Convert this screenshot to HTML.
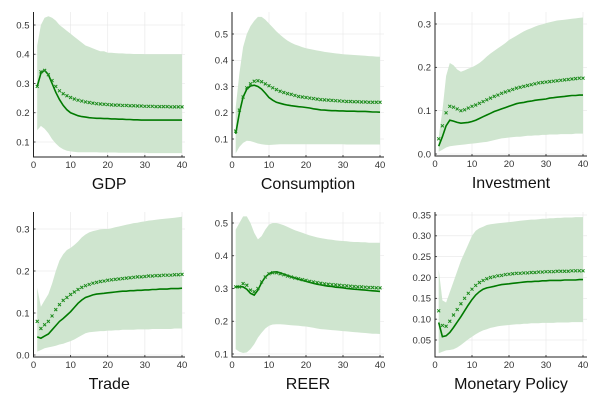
<!DOCTYPE html>
<html><head><meta charset="utf-8"><style>
html,body{margin:0;padding:0;background:#fff}
svg{display:block;font-family:"Liberation Sans","DejaVu Sans",sans-serif}
</style></head><body>
<svg id="chart" width="600" height="400" viewBox="0 0 600 400"></svg>
<script>
const titles=["GDP","Consumption","Investment","Trade","REER","Monetary Policy"];
const xTicks=[0,10,20,30,40];
const yTicksGDP=["0.1","0.2","0.3","0.4","0.5"];
const yTicksCons=["0.1","0.2","0.3","0.4","0.5"];
const yTicksInv=["0.0","0.1","0.2","0.3"];
const yTicksTrade=["0.0","0.1","0.2","0.3"];
const yTicksReer=["0.1","0.2","0.3","0.4","0.5"];
const yTicksMon=["0.05","0.10","0.15","0.20","0.25","0.30","0.35"];

const gdpMean=[0.29,0.34,0.345,0.33,0.31,0.29,0.275,0.265,0.258,0.252,0.247,0.243,0.24,0.237,0.235,0.233,0.231,0.23,0.229,0.228,0.227,0.226,0.226,0.225,0.225,0.224,0.224,0.223,0.223,0.222,0.222,0.222,0.221,0.221,0.221,0.221,0.22,0.22,0.22,0.22];
const gdpMedian=[0.29,0.335,0.345,0.33,0.30,0.27,0.245,0.225,0.21,0.2,0.195,0.19,0.187,0.185,0.183,0.182,0.181,0.181,0.18,0.18,0.179,0.179,0.178,0.178,0.177,0.177,0.176,0.176,0.175,0.175,0.175,0.175,0.175,0.175,0.175,0.175,0.175,0.175,0.175,0.175];
const gdpUpper=[0.43,0.5,0.525,0.53,0.525,0.515,0.5,0.49,0.48,0.47,0.46,0.45,0.44,0.43,0.425,0.42,0.415,0.41,0.41,0.405,0.405,0.404,0.403,0.403,0.402,0.402,0.401,0.401,0.401,0.4,0.4,0.4,0.4,0.4,0.4,0.4,0.4,0.4,0.4,0.4];
const gdpLower=[0.14,0.155,0.145,0.13,0.11,0.095,0.083,0.075,0.07,0.068,0.066,0.065,0.065,0.065,0.065,0.065,0.065,0.064,0.064,0.064,0.064,0.064,0.063,0.063,0.063,0.063,0.063,0.063,0.063,0.063,0.062,0.062,0.062,0.062,0.062,0.062,0.062,0.062,0.062,0.062];

const consMean=[0.13,0.21,0.26,0.295,0.31,0.32,0.322,0.318,0.31,0.303,0.295,0.288,0.282,0.277,0.273,0.27,0.266,0.262,0.26,0.258,0.256,0.254,0.252,0.25,0.249,0.248,0.247,0.246,0.245,0.244,0.243,0.243,0.242,0.242,0.241,0.241,0.24,0.24,0.24,0.24];
const consMedian=[0.12,0.2,0.26,0.29,0.302,0.305,0.3,0.29,0.275,0.258,0.248,0.24,0.236,0.232,0.229,0.227,0.225,0.223,0.222,0.22,0.218,0.215,0.213,0.211,0.21,0.209,0.208,0.208,0.207,0.207,0.206,0.206,0.206,0.205,0.205,0.205,0.204,0.203,0.203,0.202];
const consUpper=[0.22,0.35,0.45,0.5,0.53,0.55,0.565,0.565,0.555,0.54,0.525,0.51,0.497,0.485,0.475,0.467,0.46,0.455,0.45,0.446,0.443,0.44,0.437,0.435,0.432,0.43,0.428,0.426,0.425,0.423,0.422,0.421,0.42,0.419,0.418,0.417,0.416,0.415,0.414,0.413];
const consLower=[0.045,0.07,0.085,0.093,0.092,0.088,0.083,0.08,0.078,0.077,0.078,0.079,0.08,0.08,0.08,0.08,0.08,0.08,0.08,0.08,0.08,0.08,0.08,0.08,0.08,0.08,0.08,0.08,0.08,0.08,0.079,0.079,0.079,0.079,0.079,0.079,0.079,0.079,0.079,0.079];

const invMean=[0.035,0.065,0.095,0.11,0.108,0.104,0.1,0.102,0.106,0.11,0.113,0.117,0.121,0.125,0.129,0.133,0.136,0.14,0.143,0.146,0.149,0.152,0.154,0.156,0.158,0.16,0.162,0.164,0.165,0.166,0.167,0.168,0.169,0.17,0.171,0.172,0.173,0.174,0.175,0.175];
const invMedian=[0.018,0.04,0.065,0.078,0.076,0.073,0.071,0.072,0.073,0.075,0.078,0.082,0.086,0.09,0.094,0.098,0.101,0.104,0.107,0.11,0.113,0.116,0.118,0.119,0.121,0.122,0.124,0.125,0.126,0.127,0.129,0.13,0.131,0.132,0.133,0.134,0.135,0.135,0.136,0.136];
const invUpper=[0.04,0.1,0.18,0.21,0.205,0.195,0.19,0.193,0.197,0.2,0.205,0.21,0.217,0.225,0.232,0.238,0.244,0.25,0.256,0.263,0.268,0.273,0.278,0.283,0.287,0.29,0.294,0.297,0.299,0.302,0.304,0.306,0.308,0.309,0.31,0.311,0.312,0.313,0.314,0.315];
const invLower=[0.005,0.01,0.015,0.018,0.019,0.02,0.021,0.022,0.023,0.024,0.025,0.026,0.027,0.028,0.03,0.032,0.034,0.036,0.037,0.038,0.039,0.04,0.04,0.041,0.042,0.042,0.043,0.043,0.044,0.044,0.045,0.045,0.045,0.046,0.046,0.046,0.046,0.047,0.047,0.047];

const tradeMean=[0.08,0.063,0.072,0.08,0.093,0.108,0.12,0.13,0.137,0.144,0.15,0.156,0.161,0.165,0.168,0.171,0.173,0.175,0.176,0.178,0.179,0.18,0.181,0.182,0.183,0.184,0.185,0.186,0.186,0.187,0.188,0.188,0.189,0.189,0.19,0.19,0.19,0.191,0.191,0.192];
const tradeMedian=[0.043,0.04,0.045,0.05,0.06,0.07,0.08,0.087,0.095,0.103,0.113,0.123,0.131,0.137,0.14,0.143,0.145,0.146,0.147,0.148,0.149,0.15,0.151,0.152,0.152,0.153,0.153,0.154,0.154,0.155,0.155,0.156,0.156,0.157,0.157,0.157,0.158,0.158,0.158,0.159];
const tradeUpper=[0.16,0.115,0.13,0.145,0.17,0.2,0.225,0.24,0.25,0.255,0.262,0.27,0.28,0.287,0.292,0.295,0.297,0.299,0.3,0.3,0.302,0.304,0.306,0.308,0.31,0.312,0.314,0.315,0.317,0.318,0.32,0.321,0.322,0.323,0.324,0.325,0.326,0.327,0.328,0.329];
const tradeLower=[0.008,0.012,0.016,0.018,0.02,0.022,0.025,0.027,0.03,0.033,0.037,0.042,0.047,0.052,0.054,0.055,0.056,0.057,0.057,0.058,0.058,0.059,0.059,0.06,0.06,0.06,0.06,0.061,0.061,0.061,0.061,0.062,0.062,0.062,0.062,0.062,0.062,0.063,0.063,0.063];

const reerMean=[0.305,0.305,0.315,0.31,0.295,0.29,0.3,0.32,0.335,0.345,0.348,0.348,0.345,0.342,0.338,0.335,0.332,0.33,0.327,0.325,0.322,0.32,0.318,0.316,0.314,0.313,0.312,0.311,0.31,0.309,0.308,0.307,0.306,0.305,0.305,0.304,0.303,0.303,0.302,0.302];
const reerMedian=[0.305,0.306,0.305,0.298,0.285,0.28,0.295,0.318,0.335,0.345,0.35,0.351,0.348,0.344,0.34,0.336,0.332,0.328,0.325,0.322,0.319,0.316,0.313,0.311,0.309,0.307,0.306,0.304,0.303,0.302,0.3,0.299,0.298,0.297,0.296,0.295,0.294,0.293,0.292,0.291];
const reerUpper=[0.48,0.5,0.52,0.52,0.5,0.47,0.45,0.46,0.48,0.495,0.5,0.5,0.497,0.493,0.488,0.483,0.478,0.474,0.47,0.466,0.462,0.459,0.456,0.454,0.452,0.45,0.449,0.447,0.446,0.445,0.444,0.443,0.442,0.442,0.441,0.441,0.44,0.44,0.44,0.44];
const reerLower=[0.115,0.107,0.103,0.105,0.115,0.13,0.15,0.165,0.178,0.186,0.19,0.191,0.191,0.19,0.189,0.188,0.187,0.186,0.185,0.184,0.182,0.18,0.178,0.176,0.175,0.174,0.173,0.172,0.171,0.17,0.169,0.168,0.167,0.166,0.165,0.164,0.163,0.162,0.162,0.161];

const monMean=[0.12,0.085,0.083,0.095,0.11,0.123,0.137,0.15,0.162,0.172,0.181,0.188,0.193,0.197,0.2,0.202,0.204,0.205,0.207,0.208,0.209,0.21,0.21,0.211,0.211,0.212,0.212,0.213,0.213,0.214,0.214,0.214,0.215,0.215,0.215,0.215,0.216,0.216,0.216,0.216];
const monMedian=[0.092,0.058,0.06,0.068,0.08,0.093,0.106,0.12,0.134,0.147,0.158,0.166,0.172,0.175,0.177,0.179,0.181,0.183,0.184,0.185,0.186,0.187,0.188,0.189,0.19,0.19,0.191,0.191,0.192,0.192,0.193,0.193,0.193,0.193,0.194,0.194,0.194,0.194,0.195,0.195];
const monUpper=[0.22,0.145,0.14,0.165,0.19,0.215,0.24,0.26,0.28,0.3,0.312,0.318,0.322,0.326,0.328,0.329,0.33,0.331,0.332,0.333,0.334,0.335,0.336,0.337,0.338,0.339,0.339,0.34,0.341,0.341,0.342,0.342,0.343,0.343,0.344,0.344,0.344,0.345,0.345,0.345];
const monLower=[0.018,0.022,0.025,0.026,0.028,0.032,0.038,0.045,0.052,0.058,0.064,0.069,0.073,0.076,0.079,0.081,0.083,0.084,0.085,0.086,0.087,0.088,0.088,0.089,0.089,0.09,0.09,0.09,0.091,0.091,0.091,0.091,0.092,0.092,0.092,0.092,0.093,0.093,0.093,0.093];

const NS="http://www.w3.org/2000/svg";
const svg=document.getElementById("chart");
function mk(tag,attrs,parent){const e=document.createElementNS(NS,tag);for(const k in attrs)e.setAttribute(k,attrs[k]);(parent||svg).appendChild(e);return e;}

// layout: [left, x40, right, top, bottom, yRefVal1, yRefPx1, yRefVal2, yRefPx2]
const panels=[
 {title:titles[0],ticks:yTicksGDP,mean:gdpMean,med:gdpMedian,up:gdpUpper,lo:gdpLower,L:33.5,X40:182,R:185,T:12,B:157,v1:0.5,p1:25,v2:0.1,p2:142},
 {title:titles[1],ticks:yTicksCons,mean:consMean,med:consMedian,up:consUpper,lo:consLower,L:232,X40:380,R:384,T:12,B:157,v1:0.5,p1:34,v2:0.1,p2:139},
 {title:titles[2],ticks:yTicksInv,mean:invMean,med:invMedian,up:invUpper,lo:invLower,L:435,X40:583,R:587,T:12,B:156,v1:0.3,p1:24,v2:0.0,p2:154},
 {title:titles[3],ticks:yTicksTrade,mean:tradeMean,med:tradeMedian,up:tradeUpper,lo:tradeLower,L:33.5,X40:182,R:185,T:212,B:357,v1:0.3,p1:229,v2:0.0,p2:355},
 {title:titles[4],ticks:yTicksReer,mean:reerMean,med:reerMedian,up:reerUpper,lo:reerLower,L:232,X40:380,R:384,T:212,B:357,v1:0.5,p1:223,v2:0.1,p2:354},
 {title:titles[5],ticks:yTicksMon,mean:monMean,med:monMedian,up:monUpper,lo:monLower,L:435,X40:583,R:587,T:212,B:357,v1:0.35,p1:215,v2:0.05,p2:340}
];
const GREEN="#007a00";
panels.forEach((p,pi)=>{
  const g=mk("g",{});
  
  
  const xs=v=>p.L+(p.X40-p.L)*v/40;
  const ys=v=>p.p2+(v-p.v2)*(p.p1-p.p2)/(p.v1-p.v2);
  // grid
  xTicks.forEach(t=>{const l=mk("line",{x1:xs(t),x2:xs(t),y1:p.T,y2:p.B,stroke:"#e6e6e6","stroke-width":0.6},g);
    });
  p.ticks.forEach(t=>{const y=ys(parseFloat(t));const l=mk("line",{x1:p.L,x2:p.R,y1:y,y2:y,stroke:"#e6e6e6","stroke-width":0.6},g);
    });
  // band
  let d="";
  p.up.forEach((v,i)=>{d+=(i?"L":"M")+xs(i+1).toFixed(1)+","+ys(v).toFixed(1);});
  for(let i=p.lo.length-1;i>=0;i--)d+="L"+xs(i+1).toFixed(1)+","+ys(p.lo[i]).toFixed(1);
  const band=mk("path",{d:d+"Z",fill:"#cfe5cf",stroke:"none"},g);
  
  // median line
  let dl="";p.med.forEach((v,i)=>{dl+=(i?"L":"M")+xs(i+1).toFixed(1)+","+ys(v).toFixed(1);});
  const ln=mk("path",{d:dl,fill:"none",stroke:GREEN,"stroke-width":1.6},g);
  
  // mean markers
  p.mean.forEach((v,i)=>{const cx=xs(i+1),cy=ys(v),s=1.5;
    const m=mk("path",{d:`M${cx-s},${cy-s}L${cx+s},${cy+s}M${cx-s},${cy+s}L${cx+s},${cy-s}`,stroke:"#1a8a1a","stroke-width":1},g);
    });
  // axes
  const ax=mk("path",{d:`M${p.L},${p.T}L${p.L},${p.B}L${p.R},${p.B}`,fill:"none",stroke:"#222","stroke-width":1},g);
  
  xTicks.forEach(t=>{const tx=mk("text",{x:xs(t),y:p.B+11,"text-anchor":"middle","font-size":9.5,fill:"#333"},g);tx.textContent=t;
    
    mk("line",{x1:xs(t),x2:xs(t),y1:p.B,y2:p.B-2,stroke:"#222","stroke-width":0.8},g);});
  p.ticks.forEach(t=>{const y=ys(parseFloat(t));const tx=mk("text",{x:p.L-4,y:y+3.3,"text-anchor":"end","font-size":9.5,fill:"#333"},g);tx.textContent=t;
    
    mk("line",{x1:p.L,x2:p.L+2,y1:y,y2:y,stroke:"#222","stroke-width":0.8},g);});
  const ti=mk("text",{x:(p.L+p.R)/2,y:p.B+32,"text-anchor":"middle","font-size":16,fill:"#111"},g);ti.textContent=p.title;
  
});
</script>
</body></html>
